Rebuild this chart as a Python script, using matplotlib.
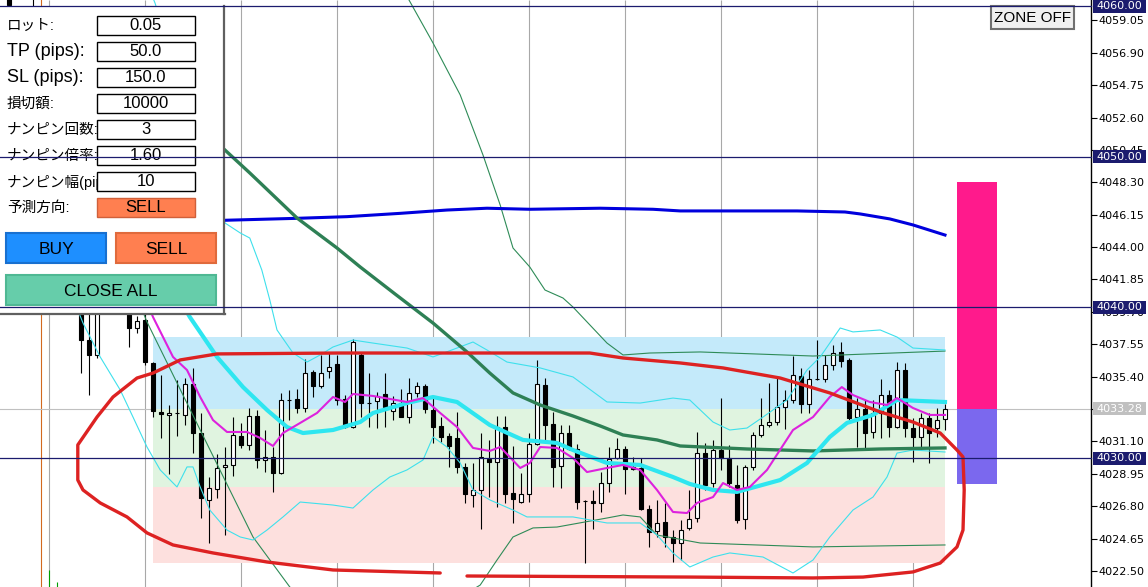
import matplotlib
matplotlib.use('Agg')
from matplotlib import pyplot as plt
from matplotlib.patches import Rectangle
from matplotlib.lines import Line2D
from matplotlib.transforms import blended_transform_factory


# Candles (index -9 .. 108)

candle_first = -9

opens = [4061.20, 4059.60, 4057.30, 4055.60, 4057.80, 4052.00, 4048.20, 4045.30, 4042.90,
         4040.60, 4037.83, 4036.84, 4040.00, 4040.30, 4039.90, 4039.60, 4038.63, 4039.16,
         4036.31, 4033.06, 4032.86, 4032.99, 4032.86, 4034.91, 4031.66, 4027.22, 4027.95, 4029.41,
         4029.54, 4031.46, 4030.87, 4032.79, 4029.87, 4030.07, 4029.01, 4033.85, 4033.92, 4033.32,
         4035.71, 4034.78, 4035.78, 4036.24, 4033.92, 4032.06, 4036.84, 4033.65, 4033.79, 4034.25,
         4033.12, 4033.65, 4032.72, 4034.32, 4034.78, 4033.19, 4032.13, 4031.46, 4031.33, 4029.41,
         4027.55, 4027.88, 4029.94, 4029.74, 4032.06, 4027.68, 4027.08, 4027.61, 4030.93, 4034.85,
         4032.26, 4029.47, 4031.66, 4030.60, 4027.15, 4027.15, 4027.02, 4028.34, 4030.00, 4030.60,
         4029.41, 4029.34, 4026.62, 4025.16, 4025.75, 4024.76, 4024.36, 4025.36, 4026.02, 4030.33,
         4028.34, 4030.53, 4030.00, 4028.21, 4025.95, 4029.41, 4031.53, 4032.19, 4032.39, 4033.39,
         4033.85, 4035.45, 4033.59, 4035.25, 4035.25, 4036.17, 4037.04, 4036.51, 4032.72, 4033.25,
         4031.73, 4032.99, 4034.18, 4032.06, 4035.84, 4031.99, 4031.40, 4032.66, 4031.99, 4032.59]

highs = [4061.60, 4059.90, 4058.90, 4060.60, 4058.50, 4053.10, 4049.00, 4046.80, 4043.60,
         4041.20, 4039.90, 4040.30, 4040.60, 4040.90, 4040.40, 4040.00, 4039.40, 4039.70,
         4036.37, 4035.51, 4033.52, 4035.18, 4035.31, 4035.98, 4032.99, 4028.74, 4030.27, 4030.73,
         4032.72, 4032.33, 4033.32, 4033.19, 4031.86, 4030.73, 4034.32, 4034.52, 4034.58, 4036.57,
         4035.84, 4036.84, 4037.04, 4036.84, 4034.18, 4037.90, 4036.97, 4035.64, 4034.38, 4035.64,
         4034.12, 4034.58, 4035.31, 4035.05, 4034.91, 4034.05, 4032.72, 4031.66, 4033.06, 4029.67,
         4029.67, 4031.66, 4031.20, 4032.79, 4032.79, 4030.80, 4029.01, 4031.66, 4036.51, 4035.31,
         4033.06, 4032.19, 4032.19, 4030.93, 4027.22, 4027.88, 4029.07, 4030.73, 4031.33, 4030.80,
         4030.07, 4030.00, 4026.88, 4027.22, 4027.02, 4025.22, 4025.89, 4027.88, 4031.73, 4031.00,
         4031.20, 4033.98, 4030.87, 4029.54, 4029.54, 4031.73, 4033.98, 4034.98, 4035.31, 4034.52,
         4036.77, 4035.98, 4035.84, 4037.83, 4036.84, 4037.50, 4037.70, 4036.64, 4033.98, 4033.85,
         4033.85, 4035.25, 4034.52, 4036.37, 4036.31, 4032.66, 4032.99, 4032.99, 4033.32, 4033.59]

lows = [4058.60, 4056.80, 4055.00, 4054.10, 4051.20, 4047.50, 4044.60, 4042.10, 4040.20,
        4035.64, 4034.18, 4036.64, 4039.60, 4039.70, 4039.60, 4037.37, 4038.30, 4036.17,
        4032.72, 4031.33, 4028.94, 4031.46, 4032.19, 4030.33, 4026.02, 4024.36, 4027.35, 4024.89,
        4028.81, 4030.67, 4030.53, 4029.34, 4029.07, 4027.75, 4028.94, 4032.52, 4032.99, 4033.06,
        4034.05, 4034.65, 4035.31, 4033.52, 4031.99, 4031.99, 4032.72, 4032.06, 4031.99, 4032.06,
        4032.52, 4032.72, 4032.33, 4034.05, 4032.99, 4031.00, 4031.06, 4029.41, 4029.01, 4027.02,
        4026.75, 4025.29, 4027.41, 4026.75, 4027.02, 4025.69, 4027.02, 4027.08, 4030.87, 4031.20,
        4028.08, 4028.01, 4030.53, 4026.62, 4023.03, 4025.29, 4026.42, 4027.75, 4029.94, 4027.61,
        4029.21, 4026.55, 4024.10, 4024.76, 4024.10, 4023.10, 4023.23, 4025.22, 4025.75, 4027.88,
        4028.08, 4029.21, 4028.08, 4025.69, 4025.29, 4029.21, 4031.40, 4032.06, 4032.19, 4031.93,
        4033.65, 4032.99, 4032.99, 4035.18, 4035.05, 4035.84, 4036.04, 4032.52, 4030.73, 4030.67,
        4031.33, 4031.33, 4031.40, 4031.99, 4031.40, 4029.74, 4030.53, 4029.67, 4031.40, 4031.86]

closes = [4060.05, 4057.30, 4055.60, 4057.80, 4052.00, 4048.20, 4045.30, 4042.90, 4040.90,
          4037.83, 4036.84, 4040.00, 4040.30, 4039.90, 4040.10, 4038.63, 4039.10, 4036.37,
          4033.12, 4032.92, 4032.99, 4032.99, 4034.91, 4031.66, 4027.35, 4028.01, 4029.34, 4029.54,
          4031.53, 4030.87, 4032.79, 4029.87, 4030.07, 4029.01, 4033.85, 4033.85, 4033.32, 4035.64,
          4034.78, 4035.64, 4036.04, 4033.85, 4032.06, 4037.70, 4033.65, 4033.65, 4034.12, 4033.39,
          4033.65, 4032.72, 4034.32, 4034.78, 4033.25, 4032.06, 4031.40, 4030.80, 4029.41, 4027.61,
          4027.88, 4030.07, 4029.74, 4032.06, 4027.61, 4027.28, 4027.61, 4030.93, 4034.91, 4032.19,
          4029.41, 4031.66, 4030.60, 4027.08, 4027.15, 4027.02, 4028.34, 4029.94, 4030.60, 4029.27,
          4029.27, 4026.62, 4025.09, 4025.69, 4024.76, 4024.36, 4025.22, 4025.95, 4030.33, 4028.21,
          4030.53, 4030.00, 4028.34, 4025.89, 4029.41, 4031.53, 4032.19, 4032.39, 4033.39, 4033.85,
          4035.51, 4033.59, 4035.25, 4035.25, 4036.17, 4036.97, 4036.44, 4032.66, 4033.25, 4031.66,
          4032.99, 4034.18, 4032.06, 4035.84, 4031.99, 4031.40, 4032.66, 4031.66, 4032.52, 4033.28]

# Indicator lines (bar index, price)

blue_x = [13.0, 18.0, 27.0, 33.25, 39.9, 45.75, 50.75, 56.1, 64.9, 71.5, 74.9, 89.5, 95.5, 97.4,
          101.1, 104.0, 108.0]
blue_y = [4045.73, 4045.78, 4045.91, 4046.02, 4046.24, 4046.46, 4046.58, 4046.51, 4046.58, 4046.51,
          4046.40, 4046.40, 4046.33, 4046.20, 4045.87, 4045.47, 4044.80]

green_x = [14.9, 18.0, 21.1, 27.0, 32.0, 34.9, 39.25, 44.0, 48.25, 51.1, 54.0, 57.4, 61.5, 64.9,
           67.75, 72.0, 74.9, 83.25, 91.5, 99.9, 108.0]
green_y = [4051.90, 4050.44, 4048.92, 4045.93, 4043.94, 4042.68, 4040.89, 4038.96, 4037.04, 4035.64,
           4034.32, 4033.52, 4032.79, 4032.13, 4031.53, 4031.20, 4030.80, 4030.60, 4030.47, 4030.60,
           4030.67]

green_up_x = [40.1, 41.0, 44.0, 47.4, 50.25, 52.4, 54.0, 56.1, 58.0, 60.25, 61.5, 65.75, 67.75,
              71.1, 77.4, 91.5, 108.0]
green_up_y = [4061.06, 4060.40, 4057.55, 4054.10, 4050.11, 4046.79, 4043.94, 4042.68, 4041.15,
              4040.62, 4040.02, 4037.63, 4036.84, 4036.97, 4037.04, 4036.77, 4037.10]

green_lo_x = [7.4, 8.25, 14.9, 21.5, 26.1, 28.25, 38.6, 49.9, 52.0, 54.0, 56.5, 59.5, 65.75, 67.75,
              69.9, 72.0, 77.4, 91.5, 108.0]
green_lo_y = [4040.16, 4039.03, 4031.86, 4024.76, 4021.44, 4020.58, 4017.92, 4021.57, 4023.23,
              4024.76, 4025.36, 4025.42, 4026.02, 4026.22, 4026.09, 4024.89, 4024.36, 4024.10, 4024.23]

cyan_x = [12.4, 13.6, 17.0, 20.25, 23.25, 25.75, 27.75, 31.5, 34.9, 36.5, 40.75, 44.0, 47.0, 51.1,
          55.25, 59.5, 61.5, 65.75, 69.9, 74.0, 76.1, 79.0, 82.0, 87.4, 90.75, 93.6, 95.75, 99.0,
          102.0, 108.0]
cyan_y = [4040.49, 4039.36, 4036.71, 4034.71, 4033.19, 4032.06, 4031.66, 4031.86, 4032.39, 4032.99,
          4033.65, 4034.05, 4033.72, 4032.19, 4031.20, 4031.00, 4030.53, 4029.67, 4029.54, 4028.74,
          4028.28, 4027.88, 4027.75, 4028.54, 4029.67, 4031.40, 4032.33, 4032.86, 4033.85, 4033.72]

magenta_x = [8.4, 9.0, 11.5, 13.25, 14.9, 16.5, 18.25, 20.75, 22.4, 24.0, 25.25, 27.4, 29.5, 31.5,
             33.0, 34.0, 36.5, 40.75, 42.75, 44.9, 47.0, 49.0, 51.1, 52.4, 54.9, 56.1, 57.4, 59.5,
             61.5, 63.25, 65.75, 67.75, 69.9, 72.0, 74.0, 75.75, 77.0, 79.0, 80.25, 82.0, 83.6,
             85.75, 89.0, 91.5, 93.6, 95.1, 96.5, 98.6, 100.75, 102.0, 104.0, 106.1, 108.0]
magenta_y = [4040.16, 4039.36, 4036.71, 4035.84, 4034.05, 4032.52, 4031.73, 4031.73, 4031.33,
             4030.80, 4031.66, 4032.33, 4032.99, 4034.05, 4033.72, 4034.25, 4034.12, 4033.72,
             4033.98, 4032.99, 4032.06, 4030.67, 4030.47, 4030.73, 4029.34, 4029.67, 4030.73,
             4030.67, 4030.00, 4029.07, 4029.34, 4029.54, 4029.21, 4027.88, 4026.42, 4026.35,
             4027.02, 4027.41, 4028.34, 4027.88, 4028.08, 4029.21, 4031.86, 4032.72, 4034.05,
             4034.71, 4034.18, 4033.72, 4033.52, 4033.98, 4033.32, 4032.86, 4032.86]

cyan_up_x = [8.6, 9.25, 18.0, 19.9, 21.1, 22.6, 23.6, 24.5, 26.5, 28.25, 29.9, 31.5, 34.0, 36.5,
             40.75, 44.0, 47.0, 49.0, 50.75, 53.25, 57.4, 61.5, 65.75, 69.9, 74.0, 76.1, 79.0,
             81.1, 83.25, 85.25, 88.25, 90.75, 92.4, 94.9, 96.5, 99.9, 102.0, 104.0, 108.0]
cyan_up_y = [4061.06, 4060.20, 4045.60, 4044.94, 4044.60, 4042.48, 4040.49, 4038.50, 4036.97,
             4036.37, 4036.84, 4037.37, 4037.83, 4037.63, 4037.30, 4036.71, 4037.30, 4037.70,
             4037.17, 4036.37, 4035.98, 4035.38, 4033.72, 4033.65, 4033.98, 4033.85, 4032.39,
             4031.86, 4031.99, 4032.72, 4033.85, 4035.84, 4036.71, 4038.63, 4038.37, 4038.50,
             4038.03, 4037.30, 4037.17]

cyan_lo_x = [-0.4, 0.25, 2.4, 4.9, 6.5, 8.25, 9.9, 12.0, 13.25, 14.0, 14.9, 16.1, 18.25, 19.9,
             21.5, 23.25, 25.25, 27.4, 31.5, 34.0, 36.5, 38.6, 40.75, 42.75, 44.0, 45.75, 47.4,
             49.0, 51.1, 54.0, 55.75, 61.5, 65.75, 69.9, 72.0, 74.0, 76.1, 79.0, 81.1, 85.25, 89.0,
             91.5, 93.6, 96.5, 99.0, 100.75, 102.0, 104.0, 108.0]
cyan_lo_y = [4039.83, 4038.96, 4036.71, 4034.52, 4032.72, 4030.73, 4029.21, 4028.08, 4029.41,
             4029.41, 4028.08, 4026.55, 4025.22, 4024.76, 4024.56, 4025.22, 4026.09, 4027.08,
             4026.88, 4026.68, 4027.88, 4028.74, 4029.21, 4029.87, 4031.40, 4030.73, 4029.67,
             4027.88, 4027.22, 4026.55, 4026.09, 4026.09, 4025.69, 4025.69, 4024.89, 4023.70,
             4022.77, 4023.43, 4023.70, 4023.43, 4022.37, 4023.23, 4024.76, 4026.55, 4027.41,
             4028.74, 4030.33, 4030.53, 4030.40]

# Hand-drawn red ellipse
red_x = [48.25, 76.1, 91.5, 97.75, 104.0, 107.4, 109.5, 110.25, 110.4, 110.25, 109.5, 107.4, 104.0,
         99.9, 93.6, 87.4, 80.25, 74.9, 67.75, 63.6, 32.4, 17.0, 12.4, 9.0, 7.0, 4.0, 2.0, -0.4,
         -0.4, 0.25, 2.4, 5.75, 8.25, 11.5, 16.5, 23.25, 31.5, 44.9]
red_y = [4022.17, 4022.10, 4022.04, 4022.10, 4022.44, 4023.03, 4024.10, 4025.22, 4027.88, 4030.07,
         4030.53, 4031.66, 4032.39, 4033.06, 4034.32, 4035.31, 4035.98, 4036.31, 4036.64, 4036.97,
         4036.97, 4036.91, 4036.51, 4035.64, 4035.31, 4034.05, 4032.72, 4030.87, 4028.54, 4027.88,
         4027.02, 4026.09, 4025.03, 4024.23, 4023.70, 4023.10, 4022.57, 4022.37]

# Zones, levels, axis

zone_x = [9.0, 108.0]
zone_levels = [4038.05, 4033.28, 4028.05, 4023.03]
zone_colors = ['#c4eafa', '#e0f4e0', '#fde0de']

forecast_x = 112.0
forecast_levels = [4048.30, 4033.28, 4028.30]

level_lines = [4060.00, 4050.00, 4040.00, 4030.00]
bid_price = 4033.28

price_ticks = [4022.50, 4024.65, 4026.80, 4028.95, 4031.10, 4033.25, 4035.40, 4037.55, 4039.70,
               4041.85, 4044.00, 4046.15, 4048.30, 4050.45, 4052.60, 4054.75, 4056.90, 4059.05]
grid_x = [-4, 8, 20, 32, 44, 56, 68, 80, 92, 104]

# Panel texts
panel_labels = ['ロット:', 'TP (pips):', 'SL (pips):', '損切額:', 'ナンピン回数:', 'ナンピン倍率:',
                'ナンピン幅(pips):', '予測方向:']
panel_values = ['0.05', '50.0', '150.0', '10000', '3', '1.60', '10', 'SELL']

X_MIN, X_MAX = -10.125, 126.25
Y_MIN, Y_MAX = 4021.44, 4060.40
JP = ['Liberation Sans', 'Noto Sans CJK JP']
NAVY = '#1b1b6e'


def draw_candles(ax):
    idx = list(range(candle_first, candle_first + len(opens)))
    ax.vlines(idx, lows, highs, color='black', lw=0.8, zorder=3)
    bottoms = [min(o, c) for o, c in zip(opens, closes)]
    heights = [abs(c - o) for o, c in zip(opens, closes)]
    colors = ['white' if c >= o else 'black' for o, c in zip(opens, closes)]
    ax.bar(idx, heights, 0.6, bottoms, color=colors, edgecolor='black', lw=0.8, zorder=3)


def draw_chart(ax):
    ax.set_xlim(X_MIN, X_MAX)
    ax.set_ylim(Y_MIN, Y_MAX)

    # grid, orange separator, bid line
    ax.vlines(grid_x, Y_MIN, Y_MAX, color='#a8a8a8', lw=0.8, zorder=0.5)
    ax.axvline(-5, color='#d2691e', lw=0.8, zorder=0.6)
    ax.vlines([-4, -3], [Y_MIN, Y_MIN], [4022.57, 4021.77], color='#00a000', lw=0.8, zorder=0.6)
    ax.axhline(bid_price, color='#c0c0c0', lw=0.8, zorder=0.7)

    # zones
    for k, col in enumerate(zone_colors):
        ax.fill_between(zone_x, zone_levels[k + 1], zone_levels[k], color=col, lw=0, zorder=1)

    # forecast bars
    ax.bar(forecast_x, forecast_levels[0] - forecast_levels[1], 5.0, forecast_levels[1],
           color='#ff1a8c', lw=0, zorder=1)
    ax.bar(forecast_x, forecast_levels[1] - forecast_levels[2], 5.0, forecast_levels[2],
           color='#7b68ee', lw=0, zorder=1)

    draw_candles(ax)

    # indicators
    ax.plot(green_up_x, green_up_y, color='#2e8b57', lw=0.8, zorder=4)
    ax.plot(green_lo_x, green_lo_y, color='#2e8b57', lw=0.8, zorder=4)
    ax.plot(cyan_up_x, cyan_up_y, color='#3ee0ec', lw=0.8, zorder=4)
    ax.plot(cyan_lo_x, cyan_lo_y, color='#3ee0ec', lw=0.8, zorder=4)
    ax.plot(blue_x, blue_y, color='#0000dd', lw=2.2, zorder=4)
    ax.plot(green_x, green_y, color='#2e8055', lw=2.4, zorder=4)
    ax.plot(cyan_x, cyan_y, color='#2ee6f0', lw=3.0, zorder=4)
    ax.plot(magenta_x, magenta_y, color='#dd22dd', lw=1.5, zorder=5)
    ax.plot(red_x, red_y, color='#dd2222', lw=2.4, zorder=6, solid_joinstyle='round',
            solid_capstyle='round')

    # price axis on the right
    for s in ['top', 'left', 'bottom']:
        ax.spines[s].set_visible(False)
    ax.spines['right'].set_color('black')
    ax.spines['right'].set_linewidth(1.0)
    ax.set_xticks([])
    ax.yaxis.tick_right()
    ax.set_yticks(price_ticks)
    ax.set_yticklabels(['%.2f' % v for v in price_ticks])
    ax.tick_params(axis='y', direction='out', length=4, width=0.8, pad=1.5, labelsize=8,
                   colors='black')


def has_cjk(s):
    return any(ord(ch) > 0x3000 for ch in s)


def draw_panel(ov):
    # panel background and border
    ov.add_patch(Rectangle((0, 6), 225, 308, facecolor='white', edgecolor='none', zorder=1))
    ov.plot([224, 224], [6, 314], color='#606060', lw=1.6, zorder=1.5)
    ov.plot([0, 225], [313.5, 313.5], color='#606060', lw=1.6, zorder=1.5)

    for k, (lab, val) in enumerate(zip(panel_labels, panel_values)):
        top = 16 + 26 * k
        size = 10.5 if has_cjk(lab) else 13
        ov.text(7, top + 10, lab, family=JP, fontsize=size, ha='left', va='center', zorder=2)
        last = k == len(panel_labels) - 1
        face = '#ff7f50' if last else 'white'
        edge = '#d0603a' if last else 'black'
        ov.add_patch(Rectangle((97, top), 98, 19, facecolor=face, edgecolor=edge, lw=1.0, zorder=3))
        ov.text(146, top + 10, val, family=JP, fontsize=12, ha='center', va='center', zorder=4)

    buttons = [(6, 233, 100, 30, 'BUY', '#1e8fff', '#1870d0'),
               (116, 233, 100, 30, 'SELL', '#ff7f50', '#e06a3c'),
               (6, 275, 210, 30, 'CLOSE ALL', '#66cdaa', '#4fb893')]
    for x, y, w, h, txt, face, edge in buttons:
        ov.add_patch(Rectangle((x, y), w, h, facecolor=face, edgecolor=edge, lw=1.5, zorder=3))
        ov.text(x + w / 2, y + h / 2 + 1, txt, family=JP, fontsize=12.5, ha='center',
                va='center', zorder=4)

    # ZONE OFF button
    ov.add_patch(Rectangle((991, 6), 83, 23, facecolor='#f0f0f0', edgecolor='#707070', lw=1.5,
                           zorder=3))
    ov.text(1032.5, 18, 'ZONE OFF', family=JP, fontsize=11, ha='center', va='center', zorder=4)


def draw_levels(ax, ov):
    # navy levels run over the panel too
    for v in level_lines:
        ov.add_line(Line2D([X_MIN, X_MAX], [v, v], color=NAVY, lw=0.9, transform=ax.transData,
                           zorder=5))

    tr = blended_transform_factory(ov.transData, ax.transData)
    h = 0.86
    for v in level_lines:
        ov.add_patch(Rectangle((1093, v - h / 2), 53, h, facecolor=NAVY, edgecolor='none',
                               transform=tr, zorder=6))
        ov.text(1119.5, v, '%.2f' % v, color='white', fontsize=8, ha='center', va='center',
                transform=tr, zorder=7)
    ov.add_patch(Rectangle((1093, bid_price - h / 2), 53, h, facecolor='#c0c0c0',
                           edgecolor='none', transform=tr, zorder=6))
    ov.text(1119.5, bid_price, '%.2f' % bid_price, color='white', fontsize=8, ha='center',
            va='center', transform=tr, zorder=7)


def main():
    fig = plt.figure(figsize=(11.48, 5.87), dpi=100)
    ax = fig.add_axes([0, 0, 1091 / 1148, 1])
    draw_chart(ax)

    ov = fig.add_axes([0, 0, 1, 1])
    ov.patch.set_visible(False)
    ov.axis('off')
    draw_panel(ov)
    draw_levels(ax, ov)
    ov.set_xlim(0, 1148)
    ov.set_ylim(587, 0)

    fig.savefig('out.png', dpi=100)


main()
